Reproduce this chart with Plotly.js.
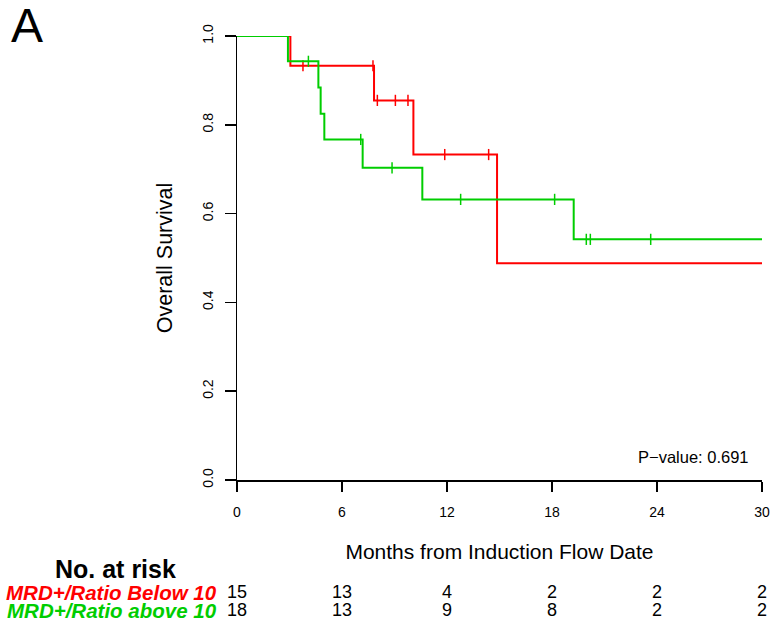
<!DOCTYPE html>
<html>
<head>
<meta charset="utf-8">
<script src="https://cdn.plot.ly/plotly-3.0.1.min.js"></script>
<style>
  html, body { margin: 0; padding: 0; background: #ffffff; }
  #chart { width: 776px; height: 626px; }
</style>
</head>
<body>
<div id="chart"></div>
<script>
// ---- Data ----
const seriesNames = ["MRD+/Ratio Below 10", "MRD+/Ratio above 10"];

// Kaplan-Meier step points (time in months, survival probability)
const redTime = [0, 3.05, 7.83, 10.08, 14.86, 30];
const redSurv = [1.0, 0.933, 0.855, 0.733, 0.488, 0.488];
const redCensorTime = [3.77, 7.77, 8.02, 9.05, 9.77, 11.87, 14.38];
const redCensorSurv = [0.933, 0.933, 0.855, 0.855, 0.855, 0.733, 0.733];

const greenTime = [0, 2.91, 4.65, 4.78, 4.99, 7.18, 10.59, 19.24, 30];
const greenSurv = [1.0, 0.943, 0.884, 0.825, 0.767, 0.703, 0.632, 0.542, 0.542];
const greenCensorTime = [4.08, 7.07, 8.86, 12.78, 18.15, 19.96, 20.19, 23.64];
const greenCensorSurv = [0.943, 0.767, 0.703, 0.632, 0.632, 0.542, 0.542, 0.542];

// Axis ticks
const xTicks = [0, 6, 12, 18, 24, 30];
const yTicks = [0, 0.2, 0.4, 0.6, 0.8, 1.0];

// Numbers at risk
const riskTimes = [0, 6, 12, 18, 24, 30];
const riskRed = [15, 13, 4, 2, 2, 2];
const riskGreen = [18, 13, 9, 8, 2, 2];

const pValueText = "P\u2212value: 0.691";
const panelLabel = "A";

// ---- Styling ----
const RED = "#FF0000";
const GREEN = "#00CD00";
const FONT = "Liberation Sans, Arial, Helvetica, sans-serif";

// Plot geometry (pixels) used to convert pixel spots into paper coordinates
const W = 776, H = 626;
const M = { l: 237, r: 14, t: 36, b: 146 };
const plotW = W - M.l - M.r, plotH = H - M.t - M.b;
const px2paperX = px => (px - M.l) / plotW;
const py2paperY = py => (H - M.b - py) / plotH;

const traces = [
  { x: redTime, y: redSurv, mode: "lines", line: { shape: "hv", color: RED, width: 2 },
    name: seriesNames[0], hoverinfo: "skip" },
  { x: redCensorTime, y: redCensorSurv, mode: "markers",
    marker: { symbol: "line-ns", size: 8, color: RED, line: { width: 1.5, color: RED } },
    name: seriesNames[0] + " censored", hoverinfo: "skip", cliponaxis: false },
  { x: greenTime, y: greenSurv, mode: "lines", line: { shape: "hv", color: GREEN, width: 2 },
    name: seriesNames[1], hoverinfo: "skip" },
  { x: greenCensorTime, y: greenCensorSurv, mode: "markers",
    marker: { symbol: "line-ns", size: 8, color: GREEN, line: { width: 1.5, color: GREEN } },
    name: seriesNames[1] + " censored", hoverinfo: "skip", cliponaxis: false }
];

const annotations = [];

// Panel label
annotations.push({ xref: "paper", yref: "paper", x: px2paperX(26.5), y: py2paperY(25.5),
  xanchor: "center", yanchor: "middle", text: panelLabel, showarrow: false,
  font: { family: FONT, size: 48, color: "#000" } });

// P-value
annotations.push({ xref: "paper", yref: "paper", x: px2paperX(693), y: py2paperY(457),
  xanchor: "center", yanchor: "middle", text: pValueText, showarrow: false,
  font: { family: FONT, size: 16.5, color: "#000" } });

// Risk table header
annotations.push({ xref: "paper", yref: "paper", x: px2paperX(115), y: py2paperY(569),
  xanchor: "center", yanchor: "middle", text: "<b>No. at risk</b>", showarrow: false,
  font: { family: FONT, size: 25, color: "#000" } });

// Row labels
const rowY = [592, 610];
const rowColors = [RED, GREEN];
seriesNames.forEach((nm, i) => {
  annotations.push({ xref: "paper", yref: "paper", x: px2paperX(219), y: py2paperY(rowY[i]),
    xanchor: "right", yanchor: "middle", text: "<b><i>" + nm + "</i></b>", showarrow: false,
    font: { family: FONT, size: 20.5, color: rowColors[i] } });
});

// Numbers at risk
[riskRed, riskGreen].forEach((arr, i) => {
  arr.forEach((n, j) => {
    annotations.push({ xref: "x", yref: "paper", x: riskTimes[j], y: py2paperY(rowY[i]),
      xanchor: "center", yanchor: "middle", text: String(n), showarrow: false,
      font: { family: FONT, size: 18, color: "#000" } });
  });
});

const layout = {
  width: W, height: H,
  margin: M,
  paper_bgcolor: "#ffffff", plot_bgcolor: "#ffffff",
  showlegend: false,
  font: { family: FONT, color: "#000" },
  xaxis: {
    range: [0, 30], tickvals: xTicks, ticktext: xTicks.map(String),
    ticks: "outside", ticklen: 10, tickwidth: 1.5, tickcolor: "#000",
    ticklabelstandoff: 9,
    showline: true, linewidth: 1.5, linecolor: "#000",
    showgrid: false, zeroline: false, fixedrange: true,
    tickfont: { family: FONT, size: 14, color: "#000" },
    title: { text: "Months from Induction Flow Date", standoff: 25,
      font: { family: FONT, size: 21, color: "#000" } }
  },
  yaxis: {
    range: [0, 1], tickvals: yTicks, tickformat: ".1f", tickangle: -90,
    ticks: "outside", ticklen: 11, tickwidth: 1.5, tickcolor: "#000",
    ticklabelstandoff: 6,
    showline: true, linewidth: 1.5, linecolor: "#000",
    showgrid: false, zeroline: false, fixedrange: true,
    tickfont: { family: FONT, size: 14, color: "#000" },
    title: { text: "Overall Survival", standoff: 21,
      font: { family: FONT, size: 21.5, color: "#000" } }
  },
  annotations: annotations
};

Plotly.newPlot("chart", traces, layout, { displayModeBar: false, staticPlot: true });
</script>
</body>
</html>
